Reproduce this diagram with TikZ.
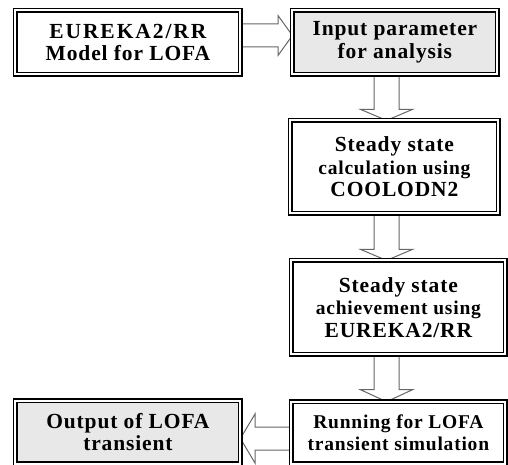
\documentclass[tikz,border=0pt]{standalone}
\usepackage{fontspec}
\setmainfont{Liberation Serif}[LetterSpace=4]
\usetikzlibrary{calc, backgrounds}
\definecolor{panelgray}{HTML}{E8E8E8}
\definecolor{arrowgray}{HTML}{666666}

\begin{document}
\begin{tikzpicture}[x=1pt, y=1pt,
    stepbox/.style={rectangle, anchor=north west, outer sep=0pt, inner sep=0pt, align=center,
        draw=black, double=white, double distance=2pt, line width=1.3pt, fill=white,
        font=\fontsize{21.5}{22.5}\selectfont\bfseries},
    shadebox/.style={stepbox, fill=panelgray},
    blockarrow/.style={draw=arrowgray, fill=white, line width=1pt, line join=miter}]
\newcommand{\smallline}{\fontsize{19.5}{21.5}\selectfont}
\useasboundingbox (0,0) rectangle (508,464);

% Top row
\node[stepbox, minimum width=225, minimum height=64] (model) at (15.4,453.6) {{\addfontfeature{LetterSpace=9}EUREKA2/RR}\\Model for LOFA};
\node[shadebox, minimum width=205, minimum height=64] (input) at (292.4,453.6) {Input parameter\\for analysis};

% Right column
\node[stepbox, minimum width=208, minimum height=93] (steady) at (290.4,343.6) {Steady state\\{\smallline calculation using}\\COOLODN2};
\node[stepbox, minimum width=214, minimum height=94] (achieve) at (291.4,203.6) {Steady state\\{\smallline achievement using}\\EUREKA2/RR};
\node[stepbox, minimum width=214, minimum height=61.8] (running) at (291.4,62.3) {\smallline Running for LOFA\\\smallline transient simulation};

% Bottom left
\node[shadebox, minimum width=225, minimum height=62.8] (output) at (15.4,63.3) {Output of LOFA\\transient};

% Hollow block arrows
\begin{scope}[on background layer]
\draw[blockarrow] let \p1=(model.east), \p2=(input.west) in
    (\x1,440pt) -- (278pt,440pt) -- (278pt,448.5pt) -- (\x2,428.5pt) -- (278pt,408.5pt) -- (278pt,417pt) -- (\x1,417pt);
\draw[blockarrow] let \p1=(input.south), \p2=(steady.north) in
    (374pt,\y1) -- (374pt,\y2+11pt) -- (360.5pt,\y2+11pt) -- (386.5pt,\y2) -- (412.5pt,\y2+11pt) -- (399pt,\y2+11pt) -- (399pt,\y1);
\draw[blockarrow] let \p1=(steady.south), \p2=(achieve.north) in
    (374pt,\y1) -- (374pt,\y2+11pt) -- (360.5pt,\y2+11pt) -- (386.5pt,\y2) -- (412.5pt,\y2+11pt) -- (399pt,\y2+11pt) -- (399pt,\y1);
\draw[blockarrow] let \p1=(achieve.south), \p2=(running.north) in
    (374pt,\y1) -- (374pt,\y2+12pt) -- (360.5pt,\y2+12pt) -- (386.5pt,\y2) -- (412.5pt,\y2+12pt) -- (399pt,\y2+12pt) -- (399pt,\y1);
\draw[blockarrow] let \p1=(running.west), \p2=(output.east) in
    (\x1,37pt) -- (255pt,37pt) -- (255pt,50pt) -- (\x2,25.5pt) -- (255pt,1pt) -- (255pt,14pt) -- (\x1,14pt);
\end{scope}
\end{tikzpicture}
\end{document}
